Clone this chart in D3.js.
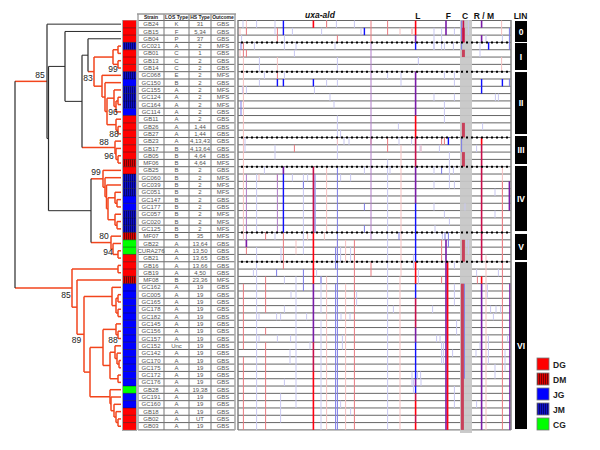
<!DOCTYPE html>
<meta charset="utf-8">
<style>
body { margin: 0; background: #fff; }
svg { display: block; }
text { font-family: "Liberation Sans", Arial, sans-serif; }
.cell { font-size: 6px; fill: #555; text-anchor: middle; }
.head { font-size: 5px; font-weight: bold; fill: #222; text-anchor: middle; }
.boot { font-size: 8.5px; fill: #222; text-anchor: middle; }
.top { font-size: 8.5px; font-weight: bold; fill: #111; text-anchor: middle; }
</style>
<svg width="600" height="450"></svg>
<script src="https://d3js.org/d3.v7.min.js"></script>
<script>

var strains = ["GB24","GB15","GB04","GC021","GB01","GB13","GB14","GC068","GC150","GC155","GC124","GC164","GC114","GB11","GB26","GB27","GB23","GB17","GB05","MF06","GB25","GC060","GC039","GC051","GC147","GC177","GC057","GC020","GC125","MF07","GB22","CURA276","GB21","GB16","GB19","MF08","GC162","GC005","GC165","GC178","GC182","GC145","GC156","GC157","GC152","GC142","GC170","GC175","GC172","GC176","GB28","GC191","GC160","GB18","GB02","GB03"];
var losType = ["K","F","P","A","C","C","C","E","B","A","A","A","A","A","A","A","A","B","B","B","B","B","B","B","B","B","B","B","B","B","A","A","A","A","A","B","A","A","A","A","A","A","A","A","Unc","A","A","A","A","A","A","A","A","A","A","A"];
var hsType = ["31","5,34","37","2","1","2","2","2","2","2","2","2","2","2","1,44","1,44","4,13,43","4,13,64","4,64","4,64","2","2","2","2","2","2","2","2","2","35","13,64","13,50","13,65","13,66","4,50","23,36","19","19","19","19","19","19","19","19","19","19","19","19","19","19","19,38","19","19","19","UT","19"];
var outcome = ["GBS","GBS","GBS","MFS","GBS","GBS","GBS","MFS","GBS","MFS","MFS","MFS","GBS","GBS","GBS","GBS","GBS","GBS","GBS","MFS","GBS","MFS","MFS","MFS","GBS","GBS","MFS","MFS","MFS","MFS","GBS","GBS","GBS","GBS","GBS","MFS","GBS","GBS","GBS","GBS","GBS","GBS","GBS","GBS","GBS","GBS","GBS","GBS","GBS","GBS","GBS","GBS","GBS","GBS","GBS","GBS"];
var group = ["DG","DG","DG","JM","DG","DG","DG","JM","JG","JM","JM","JM","JG","DG","DG","DG","DG","DG","DG","DM","DG","JM","JM","JM","JG","JG","JM","JM","JM","DM","CG","CG","DG","DG","DG","DM","JG","JG","JG","JG","JG","JG","JG","JG","JG","JG","JG","JG","JG","JG","CG","JG","JG","DG","DG","DG"];

var columns = ["Strain","LOS Type","HS Type","Outcome"];
var legendNames = ["DG","DM","JG","JM","CG"];

// node id, distance from root, children
var treeNodes = [
  ["root",0,["A","R"]],
  ["A",32,["GB24","B"]],
  ["B",33.5,["C","D"]],
  ["C",50,["GB15","P"]],
  ["P",67,["M","Q"]],
  ["M",73,["GB04","N0"]],
  ["N0",79,["N6","N1"]],
  ["N6",98,["N7","N8"]],
  ["N7",103,["GC021","GB01"]],
  ["N8",103,["GB13","GB14"]],
  ["N1",87,["GC068","N2"]],
  ["N2",90,["GC150","N3"]],
  ["N3",92,["N4","N9"]],
  ["N4",99,["GC155","N5"]],
  ["N5",101,["N10","GC114"]],
  ["N10",103,["GC124","GC164"]],
  ["N9",101,["GB11","N11"]],
  ["N11",103,["GB26","GB27"]],
  ["Q",100,["GB23","Q1"]],
  ["Q1",101,["GB17","Q2"]],
  ["Q2",103,["GB05","MF06"]],
  ["D",76,["L0","E"]],
  ["L0",88,["GB25","L1"]],
  ["L1",90,["GC060","L2"]],
  ["L2",91.5,["GC039","L3"]],
  ["L3",93,["G1","G2"]],
  ["G1",100,["GC051","G3"]],
  ["G3",102,["GC147","GC177"]],
  ["G2",100,["GC057","G4"]],
  ["G4",102,["GC020","GC125"]],
  ["E",96,["MF07","E1"]],
  ["E1",98,["GB22","E2"]],
  ["E2",103,["CURA276","GB21"]],
  ["R",57,["S","R1"]],
  ["S",103,["GB16","GB19"]],
  ["R1",62,["MF08","Z"]],
  ["Z",69,["T","W"]],
  ["T",97,["GC162","T1"]],
  ["T1",101,["T2","T3"]],
  ["T2",103,["GC005","GC165"]],
  ["T3",103,["GC178","GC182"]],
  ["W",75,["X","Y"]],
  ["X",88,["X1","V"]],
  ["X1",101,["GC145","X2"]],
  ["X2",103,["GC156","GC157"]],
  ["V",95,["V1","V2"]],
  ["V1",100,["GC152","V3"]],
  ["V3",102,["GC142","V4"]],
  ["V4",104,["GC170","GC175"]],
  ["V2",103,["GC172","GC176"]],
  ["Y",95,["GB28","Y1"]],
  ["Y1",96,["GC191","Y2"]],
  ["Y2",99,["GC160","Y3"]],
  ["Y3",101,["GB18","Y4"]],
  ["Y4",103,["GB02","GB03"]]
];
var blackBranches = ["GB24","B","GB15","C","P","M","D","GB04"];
var blackStems = ["root","A","B","C","P","M","D"];

// bootstrap value, tree distance, row position
var bootValues = [85,83,99,96,88,88,96,99,80,94,85,89,88];
var bootDist = [25,73,98,98,99,89,94,81,89,93,51,61.5,98];
var bootRow = [7.9,8.3,7.05,12.95,15.9,17,19,21.15,29.9,32.1,38,44.1,44.1];

// lineage bars, in row units
var linNames = ["0","I","II","III","IV","V","VI"];
var linStart = [0.07,3.08,7.05,15.8,19.9,29.2,33.04];
var linEnd = [2.94,6.77,15.53,19.63,28.8,32.76,55.88];
var dottedRows = [3,7,16,20,29,33];

// alignment labels, band of column C
var siteNames = ["L","F","C","R / M"];
var siteCols = [899,1052,1135,1230];
var bandCols = [1110,1170];
var alignLength = 1365;

// variable sites: [alignment column, first row, last row]
var faintBlue = [[25,0,0],[93,0,0],[185,0,1],[232,2,3],[272,1,1],[418,1,1],[492,0,0],[582,0,0],[615,1,1],[18,2,2],[82,3,3],[290,3,3],[485,3,3],[282,4,4],[107,5,6],[497,5,6],[902,5,5],[132,7,7],[232,7,7],[748,7,7],[815,7,8],[107,8,8],[443,8,8],[497,8,8],[22,9,9],[42,9,9],[382,9,9],[460,10,10],[480,11,11],[497,13,15],[802,14,14],[513,15,15],[35,16,17],[530,16,16],[555,16,16],[805,16,16],[868,16,16],[185,17,18],[915,17,17],[497,16,18],
  [980,1,3],[1018,1,3],[1082,1,1],[1360,1,1],[1152,0,1],[1240,2,2],[1322,2,2],[1032,3,3],[980,3,3],[1077,3,3],[1210,3,4],[902,5,5],[1032,7,7],[1082,7,8],[980,10,10],[1082,10,10],[1287,10,10],[1302,10,10],[1032,11,13],[1223,14,14],[910,17,17],[1007,17,17],[1193,17,17],[1057,18,19],
  [132,20,20],[632,20,20],[748,19,29],[760,20,20],[272,21,21],[327,21,29],[348,21,21],[513,21,21],[563,21,21],[93,21,28],[385,22,28],[980,20,20],[1057,20,21],[1077,20,20],[980,22,22],[1057,22,22],[1082,22,22],[1285,23,23],[980,25,25],[1135,25,25],[1032,26,26],[1285,26,26],[1057,27,27],[985,28,28],[1022,29,29],
  [185,29,29],[327,29,31],[93,31,55],[215,31,32],[513,31,32],[563,31,32],[877,32,33],[77,34,34],[393,34,34],[290,35,52],[232,35,35],[748,30,55],[1152,30,31],[1143,30,30],[1082,33,33],[1193,34,34],[1302,34,34],[902,34,35],
  [265,37,37],[593,37,38],[777,39,39],[232,39,39],[193,40,40],[213,40,40],[343,40,40],[105,40,40],[515,40,40],[560,40,40],[415,35,39],[415,41,55],[197,43,43],[263,43,43],[105,43,43],[522,43,44],[360,44,44],[260,45,46],[232,49,49],[877,49,50],[915,49,49],[213,51,54],[513,52,52],[563,53,53],[1082,36,38],[1247,36,37],[973,39,39],[1263,39,39],[1290,39,39],[1313,39,39],[1277,40,40],[1093,41,42],[993,43,43],[1010,43,43],[1252,43,46],[1018,44,46],[1027,44,46],[1073,45,45],[1190,45,45],[1210,44,44],[1335,45,47],[1348,43,43],[1285,47,48],[913,48,48],[897,48,48],[870,48,49],[1082,50,52],[1193,52,52]];
var faintRed = [[42,0,0],[10,1,1],[810,1,1],[868,1,1],[10,4,4],[443,0,0],[27,5,29],[1318,0,1],[873,1,1],[1318,5,6],[197,5,6],[443,20,28],[105,21,21],[290,30,31],[497,16,16],[815,17,21],[432,29,29],[348,29,29],[538,30,32],[815,22,34],[497,30,31],[1240,32,55],[443,35,55],[538,36,55],[810,35,55],[1322,20,32],[915,17,17]];
var midBlue = [[15,3,3],[15,11,12],[632,25,25],[327,22,22],[632,28,28],[805,29,29],[1118,0,3],[1118,16,17],[1035,29,29],[1018,20,20],[1052,29,30],[488,31,33],[497,20,55],[1132,36,48],[327,34,36],[193,34,34],[1357,1,3],[1357,8,8],[415,35,35],[488,36,55],[385,21,28]];
var midRed = [[42,1,1],[197,1,2],[665,0,2],[748,0,1],[443,0,0],[497,2,2],[27,3,4],[42,4,4],[197,7,7],[1322,22,32],[1018,16,16],[1032,16,16],[665,16,16],[748,16,16],[282,17,17],[748,17,17],[197,21,21],[138,29,29],[1018,30,32],[227,29,33],[42,30,31],[582,30,36],[1197,35,35],[138,35,39],[1018,35,35],[665,33,34],[27,36,44],[27,46,55],[582,37,55],[1322,33,55],[138,42,42],[138,44,55]];
var softPurple = [[665,3,29],[42,21,29],[197,21,28]];
var purple = [[377,36,43],[888,7,12],[1040,0,1],[1040,33,55],[1218,0,0],[1218,2,2],[227,20,20],[1357,22,25],[1360,36,55],[42,30,30],[1218,36,55],[888,42,43],[888,49,49],[888,2,2],[888,20,24],[1040,30,32]];
var strongBlue = [[227,0,1],[377,8,8],[197,8,8],[227,8,8],[888,3,3],[632,1,1],[888,25,32],[888,36,37],[888,44,48],[888,50,50],[227,21,28],[1253,3,3],[1218,8,8],[1322,8,8],[1218,9,9],[1052,16,16]];
var crimson = [[377,20,28],[377,44,47],[888,16,19],[888,38,41],[888,51,51],[888,54,54],[1218,20,32],[1218,17,19],[1127,0,2]];
var strongRed = [[377,0,0],[888,0,1],[888,13,15],[377,29,35],[377,48,55],[888,33,35],[888,52,53],[888,55,55],[1048,33,55],[1218,16,16],[1218,35,35]];
var wideCrimson = [[1127,1,2],[1127,4,4],[1127,14,15],[1127,18,19],[1127,30,32],[1122,36,55]];

var svg = d3.select("svg");

var rowPos = d3.scaleLinear().domain([0, 56]).range([20.5, 429.9]);
var treeX = d3.scaleLinear().domain([0, 106]).range([15, 121]);
var alignX = d3.scaleLinear().domain([0, alignLength]).range([238, 511]);
var colEdges = [138, 164, 189, 211, 235];

var groupColor = d3.scaleOrdinal()
    .domain(legendNames)
    .range(["#ff0000", "url(#hatchDM)", "#0000ff", "url(#hatchJM)", "#00ff00"]);

var defs = svg.append("defs");
function hatch(id, bg, fg) {
  var p = defs.append("pattern")
      .attr("id", id)
      .attr("width", 2)
      .attr("height", 2)
      .attr("patternUnits", "userSpaceOnUse");
  p.append("rect").attr("width", 2).attr("height", 2).attr("fill", bg);
  p.append("rect").attr("width", 0.8).attr("height", 2).attr("fill", fg);
}
hatch("hatchDM", "#e00000", "#600000");
hatch("hatchJM", "#1010c8", "#000060");

// ----- tree
var nodeTable = new Map(treeNodes.map(function(n) { return [n[0], n]; }));
function build(id) {
  var n = nodeTable.get(id);
  if (!n) return {id: id, dist: 106};
  return {id: id, dist: n[1], kids: n[2].map(build)};
}
var root = d3.hierarchy(build("root"), function(d) { return d.kids; });
root.eachAfter(function(d) {
  d.x = treeX(d.data.dist);
  if (d.children) {
    d.y = (d.children[0].y + d.children[d.children.length - 1].y) / 2;
  } else {
    d.y = rowPos(strains.indexOf(d.data.id) + 0.5);
  }
});

var tree = svg.append("g").attr("fill", "none");
var redLine = "#f2451c", darkLine = "#2a2a2a";

tree.selectAll(".branch")
  .data(root.links())
  .enter().append("path")
    .attr("class", "branch")
    .attr("stroke", function(d) { return blackBranches.indexOf(d.target.data.id) >= 0 ? darkLine : redLine; })
    .attr("stroke-width", function(d) { return blackBranches.indexOf(d.target.data.id) >= 0 ? 1 : 1.5; })
    .attr("d", function(d) { return "M" + d.source.x + "," + d.target.y + "H" + d.target.x; });

tree.selectAll(".stem")
  .data(root.descendants().filter(function(d) { return d.children; }))
  .enter().append("path")
    .attr("class", "stem")
    .attr("stroke", function(d) { return blackStems.indexOf(d.data.id) >= 0 ? darkLine : redLine; })
    .attr("stroke-width", function(d) { return blackStems.indexOf(d.data.id) >= 0 ? 1.2 : 1.5; })
    .attr("d", function(d) {
      return "M" + d.x + "," + d.children[0].y + "V" + d.children[d.children.length - 1].y;
    });

svg.selectAll(".boot")
  .data(bootValues)
  .enter().append("text")
    .attr("class", "boot")
    .attr("x", function(d, i) { return treeX(bootDist[i]); })
    .attr("y", function(d, i) { return rowPos(bootRow[i]); })
    .text(function(d) { return d; });

// ----- colour strip
svg.append("rect")
    .attr("x", 122).attr("y", 20).attr("width", 15).attr("height", 411)
    .attr("fill", "#aaa");
svg.selectAll(".strip")
  .data(strains)
  .enter().append("rect")
    .attr("class", "strip")
    .attr("x", 123)
    .attr("width", 13)
    .attr("y", function(d, i) { return rowPos(i); })
    .attr("height", rowPos(1) - rowPos(0))
    .attr("fill", function(d, i) { return groupColor(group[i]); });
svg.selectAll(".stripline")
  .data(d3.range(1, 56))
  .enter().append("line")
    .attr("class", "stripline")
    .attr("x1", 123).attr("x2", 136)
    .attr("y1", function(d) { return rowPos(d); })
    .attr("y2", function(d) { return rowPos(d); })
    .attr("stroke", "#000")
    .attr("stroke-opacity", 0.55)
    .attr("stroke-width", 0.7);

// ----- table
var table = svg.append("g");
table.selectAll(".hl")
  .data(d3.range(0, 57))
  .enter().append("line")
    .attr("class", "hl")
    .attr("x1", 138).attr("x2", 235)
    .attr("y1", function(d) { return rowPos(d); })
    .attr("y2", function(d) { return rowPos(d); })
    .attr("stroke", "#666");
table.selectAll(".vl")
  .data(colEdges)
  .enter().append("line")
    .attr("class", "vl")
    .attr("x1", function(d) { return d; })
    .attr("x2", function(d) { return d; })
    .attr("y1", 14).attr("y2", 430)
    .attr("stroke", function(d, i) { return (i == 0 || i == 4) ? "#aaa" : "#777"; })
    .attr("stroke-width", function(d, i) { return (i == 0 || i == 4) ? 1.6 : 1; });
table.append("line")
    .attr("x1", 137).attr("x2", 236).attr("y1", 14).attr("y2", 14)
    .attr("stroke", "#999").attr("stroke-width", 1.4);

table.selectAll(".head")
  .data(columns)
  .enter().append("text")
    .attr("class", "head")
    .attr("x", function(d, i) { return (colEdges[i] + colEdges[i + 1]) / 2; })
    .attr("y", 19)
    .text(function(d) { return d; });

[strains, losType, hsType, outcome].forEach(function(values, c) {
  table.selectAll(".col" + c)
    .data(values)
    .enter().append("text")
      .attr("class", "cell col" + c)
      .attr("x", (colEdges[c] + colEdges[c + 1]) / 2)
      .attr("y", function(d, i) { return rowPos(i + 0.5) + 2.1; })
      .text(function(d) { return d; });
});

// ----- alignment
var align = svg.append("g");
align.selectAll(".rowline")
  .data(d3.range(0, 57))
  .enter().append("line")
    .attr("class", "rowline")
    .attr("x1", alignX(0)).attr("x2", alignX(alignLength))
    .attr("y1", function(d) { return rowPos(d); })
    .attr("y2", function(d) { return rowPos(d); })
    .attr("stroke", "#666");

align.append("rect")
    .attr("x", alignX(bandCols[0]))
    .attr("width", alignX(bandCols[1]) - alignX(bandCols[0]))
    .attr("y", 20)
    .attr("height", 413)
    .attr("fill", "#c6c6c6")
    .attr("fill-opacity", 0.93);

function drawSites(values, color, w) {
  align.append("g").selectAll("rect")
    .data(values)
    .enter().append("rect")
      .attr("x", function(d) { return alignX(d[0]) - w / 2; })
      .attr("width", w)
      .attr("y", function(d) { return rowPos(d[1]); })
      .attr("height", function(d) { return rowPos(d[2] + 1) - rowPos(d[1]); })
      .attr("fill", color);
}
drawSites(faintBlue, "#c8c8f2", 1);
drawSites(faintRed, "#f5c0c0", 1);
drawSites(midBlue, "#7c7ce6", 1);
drawSites(midRed, "#e87a80", 1);
drawSites(softPurple, "#b07cc8", 1);
drawSites(wideCrimson, "#c8405a", 3);
drawSites(purple, "#7a1ca8", 1.6);
drawSites(strongBlue, "#1010ff", 1.4);
drawSites(crimson, "#c8104c", 1.6);
drawSites(strongRed, "#ff0010", 1.6);

align.append("line")
    .attr("x1", alignX(0)).attr("x2", alignX(0)).attr("y1", 20).attr("y2", 430)
    .attr("stroke", "#777").attr("stroke-width", 1.4);
align.append("line")
    .attr("x1", alignX(alignLength)).attr("x2", alignX(alignLength)).attr("y1", 20).attr("y2", 430)
    .attr("stroke", "#888").attr("stroke-width", 1.6);

align.selectAll(".dotted")
  .data(dottedRows)
  .enter().append("line")
    .attr("class", "dotted")
    .attr("x1", 241).attr("x2", 511)
    .attr("y1", function(d) { return rowPos(d); })
    .attr("y2", function(d) { return rowPos(d); })
    .attr("stroke", "#000")
    .attr("stroke-width", 2)
    .attr("stroke-dasharray", "2,3");

svg.append("text")
    .attr("class", "top")
    .attr("x", 320).attr("y", 18)
    .style("font-style", "italic")
    .text("uxa-ald");
svg.selectAll(".site")
  .data(siteNames)
  .enter().append("text")
    .attr("class", "top site")
    .attr("x", function(d, i) { return alignX(siteCols[i]); })
    .attr("y", 19)
    .text(function(d) { return d; });

// ----- lineage bars
svg.selectAll(".lin")
  .data(linNames)
  .enter().append("rect")
    .attr("class", "lin")
    .attr("x", 515)
    .attr("width", 12)
    .attr("y", function(d, i) { return rowPos(linStart[i]); })
    .attr("height", function(d, i) { return rowPos(linEnd[i]) - rowPos(linStart[i]); })
    .attr("fill", "#000");
svg.selectAll(".linlabel")
  .data(linNames)
  .enter().append("text")
    .attr("class", "linlabel")
    .attr("x", 521)
    .attr("y", function(d, i) { return (rowPos(linStart[i]) + rowPos(linEnd[i])) / 2 + 3; })
    .attr("text-anchor", "middle")
    .attr("fill", "#fff")
    .style("font-size", "8.5px")
    .style("font-weight", "bold")
    .text(function(d) { return d; });
svg.append("text")
    .attr("class", "top")
    .attr("x", 520.5).attr("y", 19)
    .text("LIN");

// ----- legend
var legendY = d3.scalePoint().domain(legendNames).range([358, 418]);
var legend = svg.selectAll(".legend")
  .data(legendNames)
  .enter().append("g")
    .attr("class", "legend")
    .attr("transform", function(d) { return "translate(537," + legendY(d) + ")"; });
legend.append("rect")
    .attr("width", 12)
    .attr("height", 12)
    .attr("fill", function(d) { return groupColor(d); })
    .attr("stroke", "#777")
    .attr("stroke-width", 0.8);
legend.append("text")
    .attr("x", 16)
    .attr("y", 9.5)
    .attr("fill", "#222")
    .style("font-size", "8.5px")
    .style("font-weight", "bold")
    .text(function(d) { return d; });

</script>
